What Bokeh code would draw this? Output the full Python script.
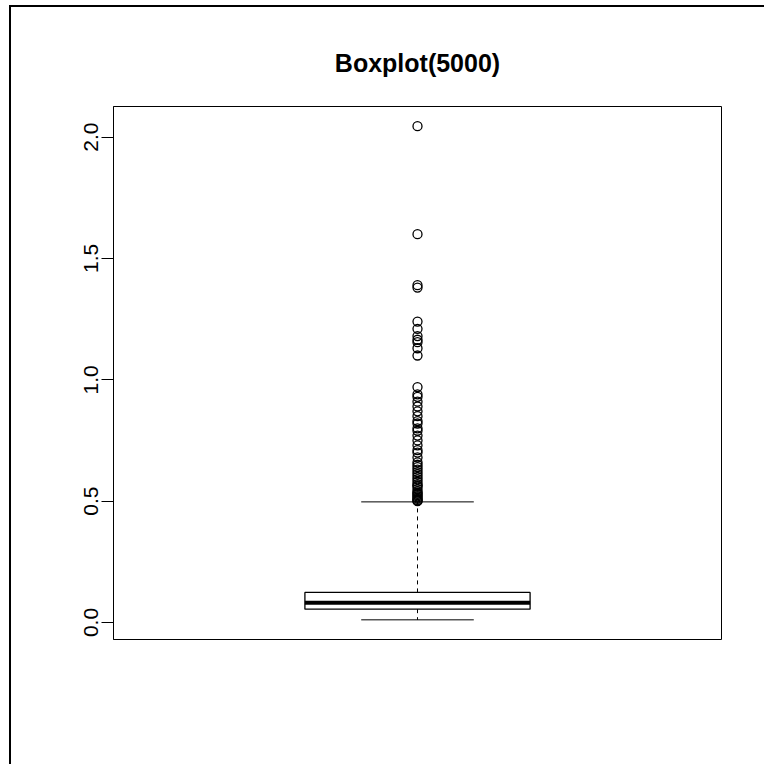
from bokeh.plotting import figure
from bokeh.models import Range1d, FixedTicker, Title
from bokeh.embed import file_html
from bokeh.resources import INLINE

# ---- data ----
title_text = "Boxplot(5000)"
y_ticks = [0.0, 0.5, 1.0, 1.5, 2.0]
y_tick_labels = ["0.0", "0.5", "1.0", "1.5", "2.0"]
box_pos = [1.0]
lower_whisker = [0.011]
q1 = [0.055]
median = [0.081]
q3 = [0.124]
upper_whisker = [0.497]
outliers = [2.045, 1.60, 1.39, 1.38, 1.24, 1.21, 1.18, 1.165, 1.155, 1.13, 1.10,
            0.97, 0.94, 0.93, 0.91, 0.89, 0.87, 0.85, 0.83, 0.82, 0.80, 0.79,
            0.77, 0.75, 0.73, 0.71, 0.70, 0.68, 0.66, 0.65, 0.64, 0.63, 0.62,
            0.61, 0.60, 0.59, 0.58, 0.57, 0.565, 0.56, 0.55, 0.54, 0.535, 0.53,
            0.525, 0.52, 0.515, 0.51, 0.505, 0.502, 0.50]

FONT = "Liberation Sans"

p = figure(width=764, height=764, output_backend="svg", toolbar_location=None,
           x_range=Range1d(0.46, 1.54), y_range=Range1d(-0.07, 2.126),
           x_axis_location=None, title=None)
p.min_border_left = 113
p.min_border_right = 43
p.min_border_top = 106
p.min_border_bottom = 125
p.background_fill_color = "white"
p.border_fill_color = None
p.outline_line_color = "black"
p.outline_line_width = 1
p.xgrid.visible = False
p.ygrid.visible = False
# outer page border (left and top edges of the scanned page)
p.styles = {"background": "linear-gradient(#000,#000) 9px 5px / 2px 100% no-repeat, "
                          "linear-gradient(#000,#000) 9px 5px / 100% 2px no-repeat, #fff"}

t = Title(text=title_text, align="center", text_font=FONT, text_font_size="25px",
          text_font_style="bold", text_color="black", standoff=60, offset=0)
p.add_layout(t, "above")

ax = p.yaxis[0]
ax.ticker = FixedTicker(ticks=y_ticks)
ax.major_label_overrides = {tk: lb for tk, lb in zip(y_ticks, y_tick_labels)}
ax.major_label_orientation = "vertical"
ax.major_label_text_font = FONT
ax.major_label_text_font_size = "21px"
ax.major_label_text_color = "black"
ax.major_tick_out = 12
ax.major_tick_in = 0
ax.minor_tick_out = 0
ax.minor_tick_in = 0
ax.axis_line_color = "black"
ax.major_tick_line_color = "black"
ax.major_label_standoff = 3

half_box = 0.2
half_cap = 0.1
bx = box_pos[0]

# box
p.quad(left=[bx - half_box], right=[bx + half_box], bottom=q1, top=q3,
       fill_color="white", line_color="black", line_width=1.3)
# median
p.segment(x0=[bx - half_box], x1=[bx + half_box], y0=median, y1=median,
          line_color="black", line_width=4)
# whiskers
p.segment(x0=box_pos + box_pos, x1=box_pos + box_pos, y0=q3 + q1,
          y1=upper_whisker + lower_whisker, line_color="black", line_width=1,
          line_dash="4 4")
# caps
p.segment(x0=[bx - half_cap] * 2, x1=[bx + half_cap] * 2,
          y0=upper_whisker + lower_whisker, y1=upper_whisker + lower_whisker,
          line_color="black", line_width=1)
# outliers
p.scatter(x=[bx] * len(outliers), y=outliers, size=9, marker="circle",
          fill_color=None, line_color="black", line_width=1.3)

open("out.html", "w").write(file_html(p, INLINE))
